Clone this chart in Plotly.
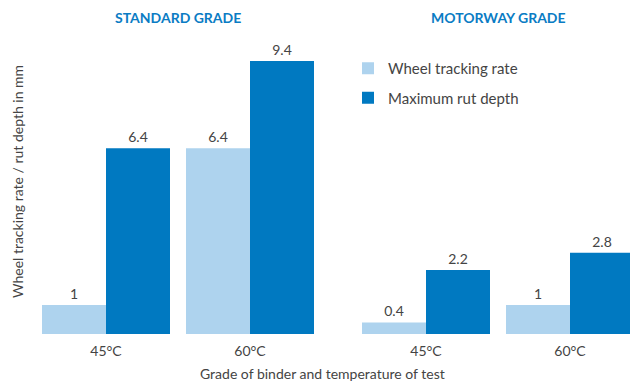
import plotly.graph_objects as go

# Data
temperatures = ["45°C", "60°C"]
grades = ["STANDARD GRADE", "MOTORWAY GRADE"]
wheel_standard = [1, 6.4]
rut_standard = [6.4, 9.4]
wheel_motorway = [0.4, 1]
rut_motorway = [2.2, 2.8]
series_names = ["Wheel tracking rate", "Maximum rut depth"]

LIGHT = "#AED3EE"
DARK = "#0079C1"
TITLE_BLUE = "#0A7CC4"
TEXT = "#444444"
FONT = "Lato"

W, H = 630, 382

fig = go.Figure()

def add_group(wheel, rut, xa, ya, show):
    fig.add_trace(go.Bar(
        x=temperatures, y=wheel, name=series_names[0], marker_color=LIGHT,
        marker_line_width=0, xaxis=xa, yaxis=ya, showlegend=show,
        legendgroup="w", text=wheel, texttemplate="%{y}", textposition="outside",
        textfont=dict(size=14, color=TEXT, family=FONT), cliponaxis=False,
    ))
    fig.add_trace(go.Bar(
        x=temperatures, y=rut, name=series_names[1], marker_color=DARK,
        marker_line_width=0, xaxis=xa, yaxis=ya, showlegend=show,
        legendgroup="r", text=rut, texttemplate="%{y}", textposition="outside",
        textfont=dict(size=14, color=TEXT, family=FONT), cliponaxis=False,
    ))

add_group(wheel_standard, rut_standard, "x", "y", True)
add_group(wheel_motorway, rut_motorway, "x2", "y2", False)

base_px = 334
unit_px = 29.04
ymax = 10
y_bottom = (H - base_px) / H
y_top = (H - (base_px - ymax * unit_px)) / H

axis_common = dict(
    showgrid=False, zeroline=False, showline=False, ticks="",
    tickfont=dict(size=14, color=TEXT, family=FONT), ticklabelstandoff=7,
)
yaxis_common = dict(
    range=[0, ymax], showgrid=False, zeroline=False, showline=False,
    showticklabels=False, ticks="", domain=[y_bottom, y_top],
)

fig.update_layout(
    width=W, height=H,
    margin=dict(l=0, r=0, t=0, b=0),
    paper_bgcolor="white", plot_bgcolor="white",
    barmode="group", bargap=16 / 144, bargroupgap=0,
    font=dict(family=FONT, color=TEXT),
    xaxis=dict(domain=[34 / W, 322 / W], range=[-0.5, 1.5], **axis_common),
    xaxis2=dict(domain=[354 / W, 1.0], range=[-0.5, 1.5 - 12 / 144], anchor="y2", **axis_common),
    yaxis=dict(anchor="x", **yaxis_common),
    yaxis2=dict(anchor="x2", **yaxis_common),
    legend=dict(
        x=348 / W, y=(H - 52) / H, xanchor="left", yanchor="top",
        font=dict(size=15, color=TEXT, family=FONT),
        bgcolor="rgba(0,0,0,0)", tracegroupgap=7, itemwidth=30,
    ),
    showlegend=True,
)

annotations = [
    dict(text="<b>" + grades[0] + "</b>", x=178 / W, y=(H - 17) / H, xref="paper", yref="paper",
         showarrow=False, font=dict(size=14, color=TITLE_BLUE, family=FONT), xanchor="center", yanchor="middle"),
    dict(text="<b>" + grades[1] + "</b>", x=498 / W, y=(H - 17) / H, xref="paper", yref="paper",
         showarrow=False, font=dict(size=14, color=TITLE_BLUE, family=FONT), xanchor="center", yanchor="middle"),
    dict(text="Wheel tracking rate / rut depth in mm", x=17 / W, y=(H - 182) / H, xref="paper", yref="paper",
         showarrow=False, textangle=-90, font=dict(size=14, color=TEXT, family=FONT),
         xanchor="center", yanchor="middle"),
    dict(text="Grade of binder and temperature of test", x=322 / W, y=(H - 373) / H, xref="paper", yref="paper",
         showarrow=False, font=dict(size=14, color=TEXT, family=FONT), xanchor="center", yanchor="middle"),
]
fig.update_layout(annotations=annotations)

fig.write_html("out.html")
